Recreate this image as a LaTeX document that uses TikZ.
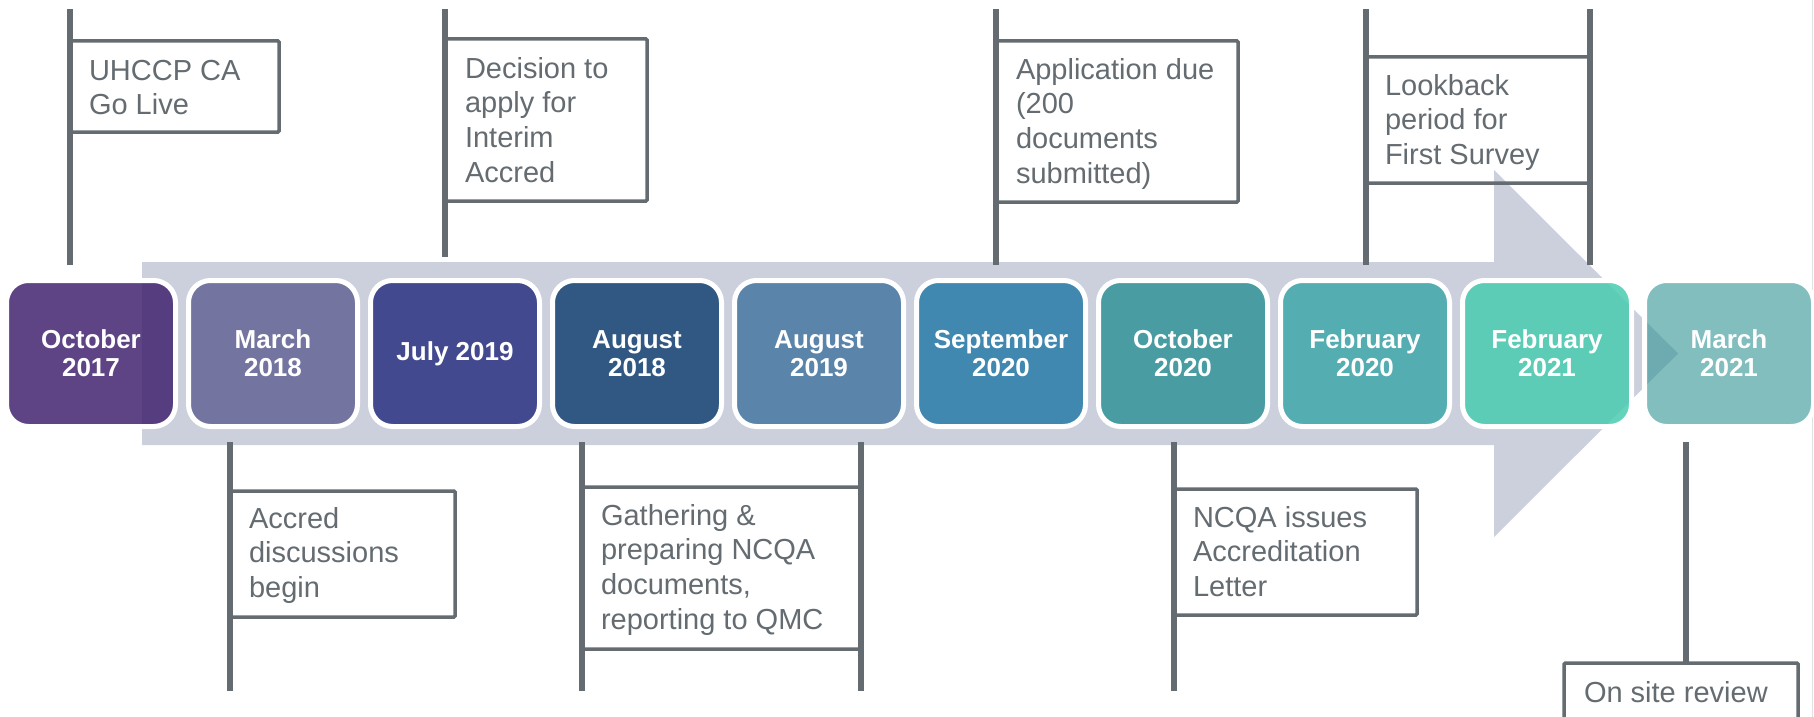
\documentclass[tikz,border=0pt]{standalone}
\usepackage{fontspec}
\setmainfont{Liberation Sans}
\definecolor{cgray}{RGB}{100,108,113}
\definecolor{arrowgray}{RGB}{204,208,221}
\definecolor{edgegray}{RGB}{226,226,226}
\definecolor{c0}{RGB}{66,36,112}
\definecolor{c1}{RGB}{100,100,149}
\definecolor{c2}{RGB}{43,50,129}
\definecolor{c3}{RGB}{22,67,116}
\definecolor{c4}{RGB}{71,119,161}
\definecolor{c5}{RGB}{40,124,167}
\definecolor{c6}{RGB}{51,149,152}
\definecolor{c7}{RGB}{62,167,170}
\definecolor{c8}{RGB}{73,204,177}
\definecolor{c9}{RGB}{47,147,147}
\newcommand\leftlines[1]{\vtop{\baselineskip=34.8pt\lineskiplimit=-100pt\halign{##\hfil\cr#1\crcr}}}
\newcommand\midlines[1]{\vtop{\baselineskip=28pt\lineskiplimit=-100pt\halign{\hfil##\hfil\cr#1\crcr}}}
\tikzset{
  daybox/.style={rectangle, rounded corners=22pt, draw=white, line width=5pt,
    fill opacity=0.85, text opacity=1, minimum width=169pt, minimum height=146pt,
    inner sep=0pt, outer sep=0pt, text=white, font=\fontsize{26}{28}\selectfont\bfseries},
  cbox/.style={rectangle, draw=cgray, line width=3.5pt, rounded corners=1.2pt,
    inner sep=0pt, outer sep=0pt, anchor=north west},
  ctext/.style={anchor=base west, inner sep=0pt, outer sep=0pt, text=cgray,
    font=\fontsize{29}{35}\selectfont},
  vline/.style={draw=cgray, line width=6pt}
}
\begin{document}
\begin{tikzpicture}[x=1pt,y=-1pt]
\useasboundingbox (0,0) rectangle (1814,717);
\fill[white] (0,0) rectangle (1814,717);
\draw[edgegray, line width=1.5pt] (1812.5,0) -- (1812.5,717);

% big arrow
\fill[arrowgray] (142,262) -- (1494,262) -- (1494,170) -- (1678,353.5)
  -- (1494,537) -- (1494,445) -- (142,445) -- cycle;

% date boxes
\node[daybox, fill=c0] (d0) at (91,353.5)   {\midlines{October\cr 2017}};
\node[daybox, fill=c1] (d1) at (273,353.5)  {\midlines{March\cr 2018}};
\node[daybox, fill=c2] (d2) at (455,353.5)  {\midlines{July 2019}};
\node[daybox, fill=c3] (d3) at (637,353.5)  {\midlines{August\cr 2018}};
\node[daybox, fill=c4] (d4) at (819,353.5)  {\midlines{August\cr 2019}};
\node[daybox, fill=c5] (d5) at (1001,353.5) {\midlines{September\cr 2020}};
\node[daybox, fill=c6] (d6) at (1183,353.5) {\midlines{October\cr 2020}};
\node[daybox, fill=c7] (d7) at (1365,353.5) {\midlines{February\cr 2020}};
\node[daybox, fill=c8] (d8) at (1547,353.5) {\midlines{February\cr 2021}};
\node[daybox, fill=c9, fill opacity=0.6] (d9) at (1729,353.5) {\midlines{March\cr 2021}};

% ---- top callouts ----
% UHCCP CA Go Live
\coordinate (u1) at (70,9);   \coordinate (u2) at (70,265);
\node[cbox, minimum width=209pt, minimum height=91pt] (bu) at (70,41) {};
\node[ctext] (tu) at (89,80) {\leftlines{UHCCP CA\cr Go Live}};
\draw[vline] (u1) -- (u2);

% Decision
\coordinate (de1) at (445,9); \coordinate (de2) at (445,257);
\node[cbox, minimum width=202pt, minimum height=162pt] (bde) at (445,39) {};
\node[ctext] (tde) at (465,78) {\leftlines{Decision to\cr apply for\cr Interim\cr Accred}};
\draw[vline] (de1) -- (de2);

% Application
\coordinate (ap1) at (996,9); \coordinate (ap2) at (996,265);
\node[cbox, minimum width=242pt, minimum height=161pt] (bap) at (996,41) {};
\node[ctext] (tap) at (1016,79) {\leftlines{Application due\cr (200\cr documents\cr submitted)}};
\draw[vline] (ap1) -- (ap2);

% Lookback
\coordinate (lk1) at (1366,9); \coordinate (lk2) at (1366,265);
\coordinate (lk3) at (1590,9); \coordinate (lk4) at (1590,265);
\node[cbox, minimum width=224pt, minimum height=126pt] (blk) at (1366,57) {};
\node[ctext] (tlk) at (1385,95) {\leftlines{Lookback\cr period for\cr First Survey}};
\draw[vline] (lk1) -- (lk2);
\draw[vline] (lk3) -- (lk4);

% ---- bottom callouts ----
% Accred discussions begin
\coordinate (ac1) at (230,442); \coordinate (ac2) at (230,691);
\node[cbox, minimum width=225pt, minimum height=126pt] (bac) at (230,491) {};
\node[ctext] (tac) at (249,528) {\leftlines{Accred\cr discussions\cr begin}};
\draw[vline] (ac1) -- (ac2);

% Gathering
\coordinate (ga1) at (582,442); \coordinate (ga2) at (582,691);
\coordinate (ga3) at (861,442); \coordinate (ga4) at (861,691);
\node[cbox, minimum width=279pt, minimum height=162pt] (bga) at (582,487) {};
\node[ctext] (tga) at (601,525) {\leftlines{Gathering \&\cr preparing NCQA\cr documents,\cr reporting to QMC}};
\draw[vline] (ga1) -- (ga2);
\draw[vline] (ga3) -- (ga4);

% NCQA issues
\coordinate (nc1) at (1174,442); \coordinate (nc2) at (1174,691);
\node[cbox, minimum width=243pt, minimum height=126pt] (bnc) at (1174,489) {};
\node[ctext] (tnc) at (1193,527) {\leftlines{NCQA issues\cr Accreditation\cr Letter}};
\draw[vline] (nc1) -- (nc2);

% On site review
\coordinate (on1) at (1686,442); \coordinate (on2) at (1686,663);
\node[cbox, minimum width=234pt, minimum height=58pt] (bon) at (1564,663) {};
\node[ctext] (ton) at (1584,702) {\leftlines{On site review}};
\draw[vline] (on1) -- (bon.north -| on1);
\end{tikzpicture}
\end{document}
